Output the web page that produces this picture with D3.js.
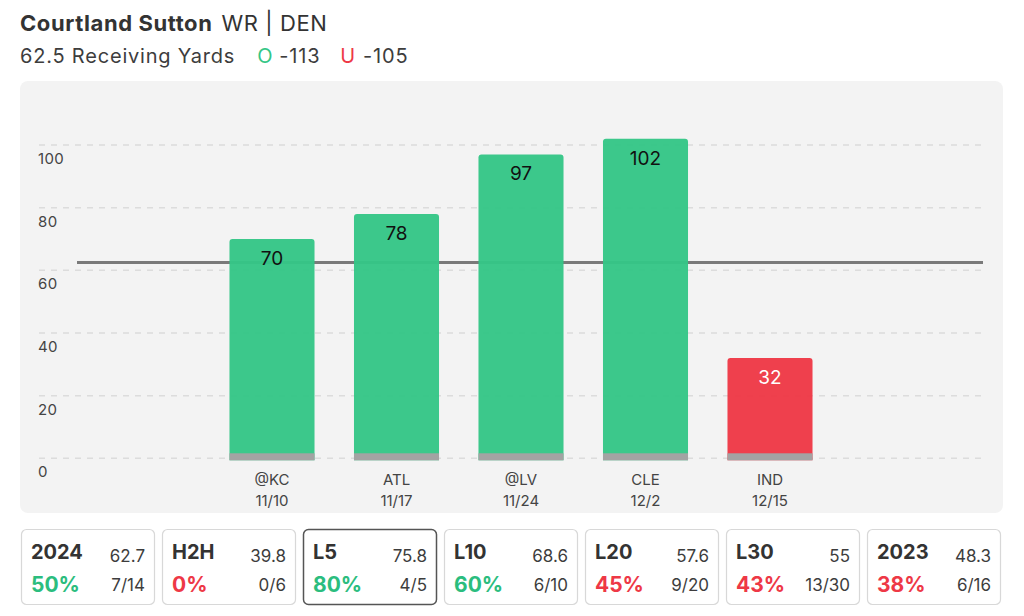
<!DOCTYPE html>
<html><head><meta charset="utf-8">
<script src="https://cdn.jsdelivr.net/npm/d3@7"></script>
<style>
html,body{margin:0;padding:0;background:#fff;}
svg{display:block;font-family:Inter,"Noto Sans",sans-serif;}
</style></head>
<body><svg id="c" width="1024" height="616"></svg>
<script>
const opponents = ["@KC","ATL","@LV","CLE","IND"];
const dates = ["11/10","11/17","11/24","12/2","12/15"];
const yards = [70,78,97,102,32];
const line = 62.5;
const yTicks = [0,20,40,60,80,100];
const cardLabels = ["2024","H2H","L5","L10","L20","L30","2023"];
const cardAvgs = ["62.7","39.8","75.8","68.6","57.6","55","48.3"];
const cardPcts = [50,0,80,60,45,43,38];
const cardRecords = ["7/14","0/6","4/5","6/10","9/20","13/30","6/16"];
const selectedCard = "L5";

const GREEN = "#34c686", RED = "#ee3846";
const svg = d3.select("#c");

// header
const t = svg.append("text").attr("x",20).attr("y",31).attr("font-size",22).attr("fill","#333").attr("letter-spacing",0.6);
t.append("tspan").attr("font-weight",700).text("Courtland Sutton");
t.append("tspan").attr("dx",9).attr("font-weight",400).text("WR | DEN");
const s = svg.append("text").attr("x",20).attr("y",63).attr("font-size",20).attr("fill","#3d3d3d").attr("letter-spacing",0.8);
s.append("tspan").text(line + " Receiving Yards");
s.append("tspan").attr("dx",22).attr("fill",GREEN).text("O");
s.append("tspan").attr("dx",6).text("-113");
s.append("tspan").attr("dx",20).attr("fill",RED).text("U");
s.append("tspan").attr("dx",7).text("-105");

// panel
svg.append("rect").attr("x",20).attr("y",81).attr("width",983).attr("height",432).attr("rx",8).attr("fill","#f3f3f3");

const y = d3.scaleLinear().domain([0,100]).range([458.3,145]);
const x = d3.scaleBand().domain(opponents).range([209.75,832.25]).paddingInner(0.317).paddingOuter(0.1585);

// gridlines
const g = svg.append("g");
g.selectAll("line.grid").data(yTicks).join("line")
 .attr("x1",39).attr("x2",983).attr("y1",d=>y(d)).attr("y2",d=>y(d))
 .attr("stroke","#dcdcdc").attr("stroke-width",1.5).attr("stroke-dasharray","6,6");
g.selectAll("text.tick").data(yTicks).join("text")
 .attr("x",38).attr("y",d=>y(d)+19).attr("font-size",15).attr("fill","#444").attr("letter-spacing",0.4).text(d=>d);

// prop line
svg.append("line").attr("x1",77).attr("x2",983).attr("y1",y(line)).attr("y2",y(line))
 .attr("stroke","#7a7a7a").attr("stroke-width",3);

// bars
const bars = svg.append("g");
const bw = x.bandwidth();
function barPath(x0,y0,w,h,r){
  return `M${x0},${y0+h}V${y0+r}Q${x0},${y0} ${x0+r},${y0}H${x0+w-r}Q${x0+w},${y0} ${x0+w},${y0+r}V${y0+h}Z`;
}
const base = y(0)+2;
yards.forEach((v,i)=>{
  const x0 = x(opponents[i]);
  bars.append("path").attr("d",barPath(x0,y(v),bw,base-y(v),3))
   .attr("fill", v>line?GREEN:RED).attr("fill-opacity",0.96);
  bars.append("rect").attr("x",x0).attr("y",base-7).attr("width",bw).attr("height",7).attr("fill","#a3a3a3");
  bars.append("text").attr("x",x0+bw/2).attr("y",y(v)+26).attr("text-anchor","middle")
   .attr("font-size",19).attr("fill",v>line?"#111":"#fff").text(v);
  bars.append("text").attr("x",x0+bw/2).attr("y",485).attr("text-anchor","middle")
   .attr("font-size",15).attr("fill","#444").text(opponents[i]);
  bars.append("text").attr("x",x0+bw/2).attr("y",506).attr("text-anchor","middle")
   .attr("font-size",15).attr("fill","#444").text(dates[i]);
});

// cards
const cards = svg.append("g");
cardLabels.forEach((lab,i)=>{
  const cx = 21 + i*141, cy = 529, cw = 134, ch = 76;
  const sel = lab===selectedCard;
  cards.append("rect").attr("x",cx+0.5).attr("y",cy+0.5).attr("width",cw-1).attr("height",ch-1).attr("rx",5)
   .attr("fill","#fff").attr("stroke",sel?"#555":"#d8d8d8").attr("stroke-width",sel?1.5:1.2);
  cards.append("text").attr("x",cx+10).attr("y",cy+30).attr("font-size",20).attr("font-weight",700).attr("fill","#333").text(lab);
  cards.append("text").attr("x",cx+cw-10).attr("y",cy+33).attr("text-anchor","end").attr("font-size",17).attr("fill","#3d3d3d").text(cardAvgs[i]);
  cards.append("text").attr("x",cx+10).attr("y",cy+63).attr("font-size",21).attr("font-weight",700)
   .attr("fill",cardPcts[i]>=50?"#2bbd7e":RED).text(cardPcts[i]+"%");
  cards.append("text").attr("x",cx+cw-10).attr("y",cy+62).attr("text-anchor","end").attr("font-size",17).attr("fill","#3d3d3d").text(cardRecords[i]);
});
</script></body></html>
